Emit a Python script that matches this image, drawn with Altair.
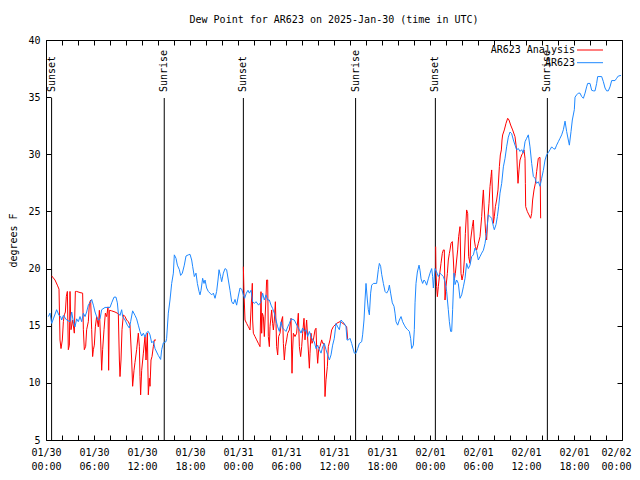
import json
import altair as alt
import pandas as pd

W, H = 576, 400
FONT = "DejaVu Sans Mono"

series_names = ["AR623 Analysis", "AR623"]
series_colors = ["#ff0000", "#1e88ff"]

tick_hours = list(range(0, 73, 6))
tick_dates = ["01/30"] * 4 + ["01/31"] * 4 + ["02/01"] * 4 + ["02/02"]
tick_times = ["00:00", "06:00", "12:00", "18:00"] * 3 + ["00:00"]
minor_hours = list(range(0, 73, 2))
y_ticks = [5, 10, 15, 20, 25, 30, 35, 40]

sun_hours = [0.7, 14.78, 24.67, 38.7, 48.67, 62.67]
sun_labels = ["Sunset", "Sunrise", "Sunset", "Sunrise", "Sunset", "Sunrise"]

blue_hours = [
    0.29, 0.5, 0.71, 0.92, 1.33, 1.63, 1.83, 1.96, 2.17, 2.58, 3.0, 3.21, 3.42, 3.63, 3.83,
    4.04, 4.25, 4.46, 4.67, 4.88, 5.08, 5.29, 5.5, 5.71, 5.92, 6.13, 6.33, 6.54, 6.75, 6.96,
    7.38, 8.0, 8.21, 8.5, 8.75, 8.92, 9.04, 9.25, 9.46, 9.58, 9.88, 10.17, 10.42, 10.58, 10.83,
    11.13, 11.33, 11.54, 11.75, 11.96, 12.17, 12.38, 12.58, 12.79, 13.0, 13.21, 13.42, 13.63,
    13.83, 14.04, 14.33, 14.46, 14.67, 15.0, 15.08, 15.29, 15.5, 15.71, 15.92, 16.04, 16.25,
    16.42, 16.67, 16.83, 17.04, 17.29, 17.5, 17.79, 18.0, 18.21, 18.33, 18.54, 18.75, 18.92,
    19.13, 19.25, 19.38, 19.58, 19.75, 19.88, 20.08, 20.29, 20.5, 20.71, 20.92, 21.13, 21.33,
    21.5, 21.63, 21.83, 21.96, 22.17, 22.38, 22.58, 22.79, 23.0, 23.21, 23.42, 23.63, 23.83,
    24.04, 24.25, 24.46, 24.67, 24.83, 25.04, 25.25, 25.42, 25.63, 25.83, 26.04, 26.25, 26.58,
    26.88, 27.08, 27.29, 27.5, 27.71, 27.92, 28.13, 28.33, 28.54, 28.75, 28.96, 29.17, 29.38,
    29.58, 29.79, 30.0, 30.21, 30.42, 30.63, 31.04, 31.46, 31.67, 31.88, 32.08, 32.29, 32.5,
    32.71, 32.92, 33.13, 33.33, 33.54, 33.75, 33.96, 34.17, 34.38, 34.58, 34.79, 35.0, 35.21,
    35.42, 35.63, 35.83, 36.04, 36.25, 36.46, 36.67, 36.88, 37.08, 37.29, 37.5, 37.63, 37.79,
    38.0, 38.21, 38.54, 38.75, 38.96, 39.17, 39.46, 39.58, 39.75, 39.88, 40.0, 40.17, 40.29,
    40.42, 40.58, 40.71, 40.92, 41.33, 41.54, 41.67, 41.83, 41.96, 42.17, 42.38, 42.58, 42.79,
    42.92, 43.08, 43.29, 43.5, 43.63, 43.75, 43.96, 44.17, 44.38, 44.58, 44.79, 45.0, 45.21,
    45.42, 45.58, 45.71, 45.92, 46.04, 46.13, 46.25, 46.42, 46.63, 46.75, 46.88, 47.08, 47.25,
    47.42, 47.58, 47.79, 48.0, 48.21, 48.33, 48.42, 48.63, 48.83, 49.04, 49.25, 49.46, 49.67,
    49.88, 50.08, 50.29, 50.42, 50.58, 50.71, 50.83, 51.0, 51.13, 51.33, 51.54, 51.75, 51.96,
    52.17, 52.38, 52.58, 52.79, 53.0, 53.21, 53.42, 53.63, 53.83, 54.04, 54.25, 54.46, 54.67,
    54.88, 55.08, 55.29, 55.5, 55.71, 55.92, 56.04, 56.25, 56.42, 56.58, 56.75, 56.96, 57.17,
    57.38, 57.58, 57.79, 58.0, 58.21, 58.42, 58.63, 58.83, 59.04, 59.25, 59.46, 59.67, 59.88,
    60.08, 60.29, 60.5, 60.71, 60.92, 61.13, 61.33, 61.54, 61.75, 61.96, 62.17, 62.38, 62.58,
    62.79, 63.0, 63.21, 63.42, 63.63, 63.83, 64.04, 64.25, 64.46, 64.67, 64.88, 65.08, 65.29,
    65.42, 65.63, 65.79, 66.04, 66.13, 66.33, 66.54, 66.75, 66.96, 67.17, 67.38, 67.58, 67.71,
    68.0, 68.21, 68.42, 68.63, 68.83, 68.96, 69.46, 69.67, 69.88, 70.08, 70.29, 70.5, 70.71,
    71.13, 71.33, 71.54, 71.88,
]
blue_values = [
    15.8, 16.1, 15.2, 15.6, 16.4, 15.9, 15.8, 15.5, 15.9, 15.5, 15.35, 16.2, 15.35, 14.9, 15.6,
    15.35, 15.8, 15.35, 16.1, 15.8, 16.2, 16.8, 17.0, 17.3, 16.8, 16.2, 15.8, 15.5, 15.6, 16.4,
    16.6, 16.6, 17.0, 17.5, 17.5, 17.0, 16.1, 15.9, 16.4, 15.8, 15.5, 15.05, 14.8, 15.35, 16.3,
    15.9, 15.6, 15.05, 14.5, 14.1, 14.35, 14.0, 14.4, 14.5, 14.2, 13.5, 13.65, 13.0,
    12.7, 12.4, 12.05, 12.9, 13.5, 13.6, 13.9, 16.1, 17.25, 18.7, 19.6, 21.2, 20.9,
    20.3, 19.9, 19.4, 19.6, 20.3, 21.1, 21.2, 21.25, 20.75, 20.2, 19.3, 19.6, 18.7,
    18.0, 17.7, 18.1, 19.15, 18.7, 19.0, 18.3, 18.0, 17.85, 17.7, 17.85, 17.4, 18.0,
    19.0, 19.9, 19.3, 18.85, 19.6, 20.0, 19.9, 19.0, 18.1, 17.1, 16.9, 17.3, 16.8,
    17.6, 18.3, 18.2, 17.7, 17.4, 17.85, 18.1, 17.85, 18.1, 17.1, 16.95, 17.1, 16.8,
    17.1, 17.85, 17.25, 17.7, 17.25, 17.25, 16.8, 16.5, 16.1, 15.5, 14.9, 14.5, 15.35,
    14.8, 14.65, 14.5, 14.9, 15.2, 15.6, 15.5, 14.9, 14.65, 14.35, 14.8, 14.5, 14.65,
    14.05, 14.5, 14.05, 13.75, 13.6, 13.0, 13.3, 12.9, 12.6, 13.15, 13.45, 12.9, 12.45,
    12.0, 12.45, 13.3, 13.9, 15.2, 14.9, 14.65, 15.5, 15.35, 15.2, 14.9, 13.75, 13.75,
    13.9, 13.45, 12.6, 12.6, 13.0, 13.45, 13.6, 14.2, 15.5, 17.25, 18.7, 17.25, 16.4,
    15.95, 17.85, 18.55, 18.7, 18.7, 19.9, 20.45, 20.2, 19.5, 18.7, 18.0, 17.85, 18.1,
    18.55, 17.85, 17.0, 16.7, 16.1, 15.35, 15.05, 15.5, 15.8, 15.35, 15.05, 14.8, 14.65,
    14.5, 13.9, 13.0, 13.3, 14.65, 17.0, 18.7, 19.7, 20.3, 19.85, 19.1, 18.7, 19.0,
    18.85, 18.55, 19.1, 19.6, 20.0, 19.3, 18.3, 20.0, 19.7, 19.3, 19.6, 19.45, 19.3,
    18.85, 18.0, 16.4, 15.35, 14.5, 14.5, 16.4, 19.6, 18.6, 19.0, 18.7, 17.4, 17.7,
    18.4, 19.15, 20.45, 20.0, 20.3, 21.05, 21.2, 21.8, 21.5, 20.75, 21.05, 21.35, 21.6,
    22.2, 23.2, 24.7, 24.55, 24.4, 23.7, 23.4, 23.85, 24.55, 25.4, 26.6, 27.45, 28.9,
    29.65, 30.65, 31.5, 31.95, 31.8, 31.25, 30.8, 30.4, 30.5, 30.25, 30.4, 30.1, 31.1,
    31.4, 31.7, 30.65, 29.2, 28.05, 27.9, 27.45, 27.6, 27.2, 27.9, 28.6, 29.5, 29.95,
    30.15, 30.4, 30.65, 30.5, 30.45, 30.8, 31.1, 31.4, 31.7, 32.15, 32.9, 32.0, 31.25,
    30.8, 32.0, 33.0, 33.9, 35.0, 35.2, 35.35, 35.35, 35.05, 34.9, 35.35, 35.9, 36.2,
    36.2, 35.6, 35.55, 35.55, 36.2, 36.8, 36.8, 36.35, 35.8, 35.55, 35.55, 35.9, 36.45,
    36.45, 36.65, 36.85, 36.9,
]

red_hours = [
    0.71, 1.125, 1.417, 1.625, 1.75, 1.875, 2.04, 2.17, 2.29, 2.42, 2.54, 2.67, 2.79, 2.92,
    3.0, 3.125, 3.33, 3.54, 3.67, 3.83, 4.25, 4.58, 4.67, 4.79, 4.96, 5.08, 5.29, 5.42, 5.58,
    5.71, 5.83, 5.92, 6.04, 6.17, 6.33, 6.54, 6.67, 6.83, 6.96, 7.08, 7.25, 7.42, 7.58, 7.75,
    7.83, 7.92, 8.21, 8.625, 9.04, 9.17, 9.25, 9.375, 9.5, 9.67, 9.875, 10.08, 10.29, 10.5,
    10.71, 10.83, 11.0, 11.125, 11.33, 11.54, 11.67, 11.75, 11.83, 11.96, 12.17, 12.375,
    12.5, 12.67, 12.79, 12.92, 13.0, 13.125, 13.25, 13.42, 13.54, 13.75,
    24.67, 24.75, 24.875, 25.08, 25.29, 25.5, 25.79, 25.83, 25.92, 26.125, 26.33, 26.54,
    26.75, 26.875, 26.96, 27.04, 27.17, 27.29, 27.5, 27.58, 27.71, 27.79, 27.92, 28.0, 28.21,
    28.33, 28.42, 28.54, 28.67, 28.75, 28.83, 28.96, 29.08, 29.25, 29.46, 29.58, 29.67, 29.79,
    29.92, 30.08, 30.21, 30.42, 30.625, 30.75, 30.83, 30.92, 31.125, 31.33, 31.54, 31.67,
    31.83, 31.96, 32.08, 32.25, 32.375, 32.58, 32.79, 32.92, 33.0, 33.125, 33.25, 33.42,
    33.625, 33.75, 33.83, 33.96, 34.08, 34.25, 34.46, 34.58, 34.75, 34.875, 35.0, 35.17,
    35.29, 35.5, 35.71, 35.92, 36.33, 36.75, 36.96, 37.375, 37.58, 37.71,
    48.71, 48.75, 48.83, 48.92, 49.04, 49.17, 49.375, 49.54, 49.67, 49.79, 49.875, 50.0,
    50.17, 50.29, 50.42, 50.5, 50.625, 50.79, 50.92, 51.04, 51.17, 51.33, 51.46, 51.58,
    51.75, 51.875, 52.0, 52.17, 52.29, 52.42, 52.58, 52.71, 52.83, 53.0, 53.08, 53.29, 53.42,
    53.54, 53.67, 53.83, 54.04, 54.25, 54.46, 54.58, 54.67, 54.79, 54.96, 55.08, 55.21,
    55.375, 55.5, 55.625, 55.71, 55.83, 55.92, 56.04, 56.17, 56.33, 56.5, 56.67, 56.79,
    56.92, 57.0, 57.08, 57.29, 57.5, 57.71, 57.875, 58.08, 58.33, 58.625, 58.83, 58.92, 59.0,
    59.125, 59.25, 59.46, 59.58, 59.75, 59.875, 59.92, 59.96, 60.17, 60.375, 60.58, 60.71,
    60.83, 61.0, 61.17, 61.33, 61.54, 61.75, 61.83,
]
red_values = [
    19.36, 19.0, 18.55, 18.2, 13.75, 13.0, 13.75, 15.35, 15.95, 16.2, 17.55, 18.0, 12.9, 13.3,
    18.0, 14.65, 15.5, 14.35, 18.0, 18.0, 17.9, 17.85, 14.65, 12.9, 13.2, 14.65, 15.35, 16.95,
    17.25, 14.65, 12.3, 12.9, 13.3, 14.9, 15.8, 14.9, 16.35, 13.75, 11.1, 12.9, 14.65, 16.1,
    15.8, 16.65, 11.1, 16.35, 16.3, 16.2, 16.05, 12.0, 10.55, 12.0, 14.65, 15.95, 15.8, 15.5,
    15.35, 15.05, 12.0, 9.7, 11.1, 11.8, 12.9, 14.35, 13.2, 10.55, 8.95, 11.1, 12.6, 14.05,
    12.0, 14.35, 8.95, 10.4, 9.7, 12.0, 12.3, 13.2, 13.75, 13.75,
    20.17, 17.84, 15.5, 15.2, 14.92, 14.63, 18.71, 15.5, 14.34, 14.05, 13.76, 13.46,
    13.17, 17.98, 14.34, 16.09, 15.8, 14.05, 17.55, 19.0, 19.0, 14.05, 13.17, 14.92, 16.38,
    15.21, 14.63, 15.5, 17.1, 15.21, 13.17, 12.44, 14.05, 14.34, 15.5, 15.8, 13.46, 12.0,
    13.17, 13.76, 14.34, 14.63, 15.65, 10.84, 12.88, 14.34, 14.05, 14.34, 16.09, 13.17,
    12.3, 13.17, 14.34, 15.65, 13.76, 15.5, 12.88, 11.28, 12.59, 14.34, 13.46, 13.76,
    14.63, 14.78, 13.17, 11.71, 12.88, 13.17, 13.76, 13.46, 13.46, 8.8, 10.26, 11.42,
    13.17, 13.76, 14.63, 14.92, 15.21, 15.36, 15.27, 15.07, 14.92, 13.81,
    21.92, 19.58, 18.42, 17.54, 18.42, 19.29, 20.46, 21.33, 21.63, 21.63, 17.25, 18.42,
    19.58, 20.75, 21.33, 21.63, 22.21, 22.36, 20.75, 19.0, 19.58, 20.75, 21.63, 22.79,
    23.67, 19.58, 19.0, 19.58, 20.75, 23.08, 25.13, 24.83, 21.04, 20.46, 22.5, 23.67, 24.25,
    22.5, 21.92, 21.63, 22.21, 22.79, 24.54, 26.0, 26.88, 25.13, 23.08, 22.5, 24.25,
    25.71, 27.17, 28.04, 28.63, 26.0, 23.96, 24.54, 25.42, 26.0, 26.88, 28.92, 29.94,
    30.38, 31.25, 31.69, 32.13, 32.71, 33.15, 33.0, 32.56, 32.13, 31.54, 30.38, 28.63, 27.46,
    28.63, 29.5, 29.94, 30.08, 30.38, 29.65, 27.46, 25.42, 24.98, 24.69, 24.4, 24.83,
    26.0, 26.88, 27.46, 28.48, 29.65, 29.73, 24.4,
]

# ---- tables -------------------------------------------------------------
blue_df = pd.DataFrame({"hour": blue_hours, "value": blue_values, "series": series_names[1]})
red_df = pd.DataFrame({"hour": red_hours, "value": red_values, "series": series_names[0]})
red_df["segment"] = (red_df["hour"].diff().fillna(0) > 3).cumsum()
sun_df = pd.DataFrame({"hour": sun_hours, "label": sun_labels})

xs = alt.Scale(domain=[0, 72], nice=False, zero=False)
ys = alt.Scale(domain=[5, 40], nice=False, zero=False)
cs = alt.Scale(domain=series_names, range=series_colors)

label_expr = (
    f"[{json.dumps(tick_dates)}[round(datum.value/6)], "
    f"{json.dumps(tick_times)}[round(datum.value/6)]]"
)

common_tick = dict(labels=False, domain=False, grid=False, title=None,
                   tickColor="black", tickWidth=1, tickSize=5)

# Sunrise / sunset lines + labelled bottom axis
sun_rules = alt.Chart(sun_df).mark_rule(color="black", strokeWidth=1).encode(
    x=alt.X("hour:Q", scale=xs, axis=alt.Axis(
        orient="bottom", values=tick_hours, labelExpr=label_expr, tickSize=0,
        domain=False, grid=False, title=None, labelFont=FONT, labelFontSize=10,
        labelColor="black", labelPadding=7, labelLineHeight=14, labelFlush=False,
        labelOverlap=False, labelBound=False,
        labelOffset={"condition": {"test": "datum.value >= 72", "value": -6}, "value": 0})),
    y=alt.value(58),
    y2=alt.value(H),
)

sun_text = alt.Chart(sun_df).mark_text(
    angle=270, align="left", baseline="middle", font=FONT, fontSize=10, color="black"
).encode(
    x=alt.X("hour:Q", scale=xs, axis=None),
    y=alt.value(52),
    text="label:N",
)

red_line = alt.Chart(red_df).mark_line(strokeWidth=1, interpolate="linear").encode(
    x=alt.X("hour:Q", scale=xs, axis=alt.Axis(orient="top", offset=-H, values=minor_hours, **common_tick)),
    y=alt.Y("value:Q", scale=ys, axis=alt.Axis(
        orient="left", values=y_ticks, tickSize=0, domain=False, grid=False,
        title="degrees F", titleFont=FONT, titleFontSize=10, titleFontWeight="normal",
        titleColor="black", titlePadding=9, labelFont=FONT, labelFontSize=10,
        labelColor="black", labelPadding=6)),
    color=alt.Color("series:N", scale=cs, legend=None),
    detail="segment:N",
)

blue_line = alt.Chart(blue_df).mark_line(strokeWidth=1, interpolate="linear").encode(
    x=alt.X("hour:Q", scale=xs, axis=alt.Axis(orient="bottom", offset=-H, values=minor_hours, **common_tick)),
    y=alt.Y("value:Q", scale=ys, axis=alt.Axis(orient="right", offset=-W, values=y_ticks, **common_tick)),
    color=alt.Color("series:N", scale=cs, legend=None),
)

right_ticks = alt.Chart(blue_df).mark_point(opacity=0).encode(
    x=alt.X("hour:Q", scale=xs, axis=None),
    y=alt.Y("value:Q", scale=ys, axis=alt.Axis(orient="left", offset=-W, values=y_ticks, **common_tick)),
)

legend_layers = []
for i, (name, color) in enumerate(zip(series_names, series_colors)):
    ypos = 10 + 12.7 * i
    ldf = pd.DataFrame({"series": [name]})
    legend_layers.append(
        alt.Chart(ldf).mark_text(align="right", baseline="middle", font=FONT,
                                 fontSize=10, color="black").encode(
            x=alt.value(529), y=alt.value(ypos), text="series:N"))
    legend_layers.append(
        alt.Chart(ldf).mark_rule(color=color, strokeWidth=1).encode(
            x=alt.value(531), x2=alt.value(557), y=alt.value(ypos)))

chart = alt.layer(
    sun_rules, red_line, blue_line, right_ticks, sun_text, *legend_layers
).resolve_axis(
    x="independent", y="independent"
).properties(
    width=W, height=H,
    title=alt.TitleParams("Dew Point for AR623 on 2025-Jan-30 (time in UTC)",
                          font=FONT, fontSize=10, fontWeight="normal", color="black",
                          anchor="middle", offset=10),
    padding={"left": 38, "top": 32, "right": 10, "bottom": 30},
    autosize=alt.AutoSizeParams(type="none"),
    background="white",
).configure_view(stroke="black", strokeWidth=1)

chart.save("out.html", embed_options={"renderer": "svg", "actions": False})
